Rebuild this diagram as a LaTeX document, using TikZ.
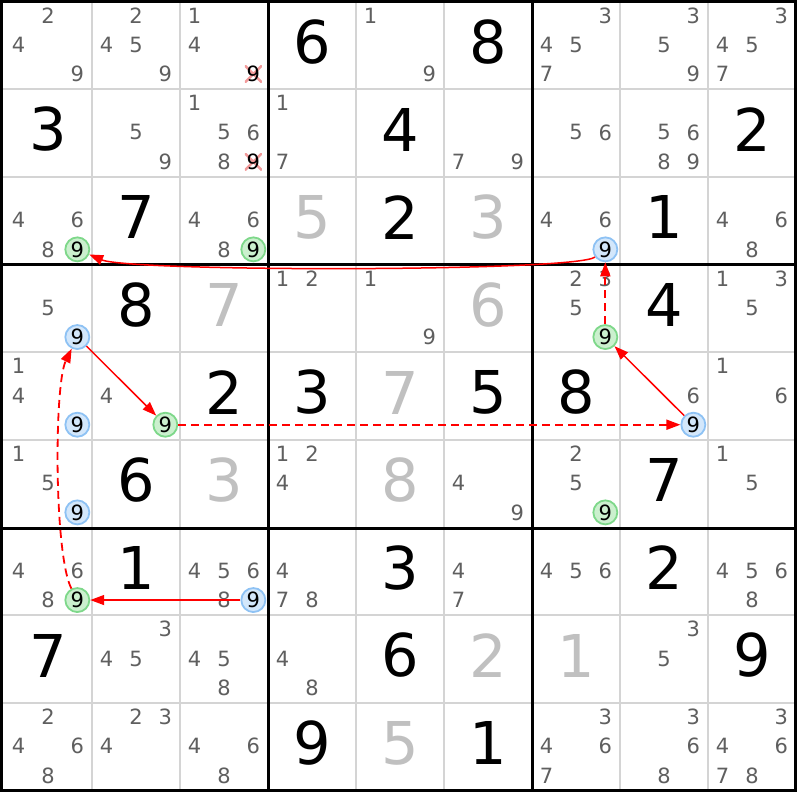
\documentclass[tikz,border=0pt]{standalone}
\usepackage{fontspec}
\setmainfont{DejaVu Sans}
\usetikzlibrary{arrows.meta}
\definecolor{candc}{HTML}{5F5F5F}
\definecolor{solvedc}{HTML}{C0C0C0}
\definecolor{thinc}{HTML}{D4D4D4}
\definecolor{grfill}{HTML}{CBF0CE}
\definecolor{grline}{HTML}{7ED88A}
\definecolor{blfill}{HTML}{D3E7FB}
\definecolor{blline}{HTML}{8EC2F4}
\definecolor{elimc}{HTML}{F29A9A}
\definecolor{arrc}{HTML}{FF0000}
\newcommand\candfont{\fontsize{21}{21}\selectfont}
\newcommand\bigfont{\fontsize{59}{59}\selectfont}
\tikzset{
  cand/.style={inner sep=0pt, text=candc, font=\candfont},
  gcirc/.style={circle, draw=grline, fill=grfill, line width=1.8pt, minimum size=24pt, inner sep=0pt, text=black, font=\candfont},
  bcirc/.style={circle, draw=blline, fill=blfill, line width=1.8pt, minimum size=24pt, inner sep=0pt, text=black, font=\candfont},
  elim/.style={inner sep=0pt, minimum size=17pt, fill=white, text=black, font=\candfont,
    path picture={\draw[elimc, line width=2.5pt]
      (path picture bounding box.north west) -- (path picture bounding box.south east)
      (path picture bounding box.north east) -- (path picture bounding box.south west);}},
  given/.style={inner sep=0pt, text=black, font=\bigfont},
  solved/.style={inner sep=0pt, text=solvedc, font=\bigfont},
  thingrid/.style={draw=thinc, line width=2pt},
  thickgrid/.style={draw=black, line width=3pt},
  link/.style={draw=arrc, line width=1.5pt, -{Triangle[length=14pt,width=10pt]}},
  weak/.style={draw=arrc, line width=1.8pt, dash pattern=on 8pt off 5pt, -{Triangle[length=14pt,width=10pt]}}
}
\newcommand\cands[3]{%
  \foreach \cd in {#3}{%
    \pgfmathsetmacro\pcx{4+88*(#2-1)+29.333*mod(\cd-1,3)+14.667}%
    \pgfmathsetmacro\pcy{1.5+87.667*(#1-1)+29.222*floor((\cd-1)/3)+14.1}%
    \node[cand] (c#1#2\cd) at (\pcx,\pcy) {\cd};
  }%
}
\newcommand\hl[4]{%
  \pgfmathsetmacro\pcx{4+88*(#3-1)+29.333*mod(#4-1,3)+14.667}%
  \pgfmathsetmacro\pcy{1.5+87.667*(#2-1)+29.222*floor((#4-1)/3)+14.1}%
  \node[#1] (c#2#3#4) at (\pcx,\pcy) {#4};
}
\newcommand\dig[4]{%
  \pgfmathsetmacro\pcx{4+88*(#3-1)+44}%
  \pgfmathsetmacro\pcy{1.5+87.667*(#2-1)+43.83-3.5}%
  \node[#1] (g#2#3) at (\pcx,\pcy) {#4};
}
\begin{document}
\begin{tikzpicture}[x=1pt,y=-1pt]
\fill[white] (0,0) rectangle (800,800);
\useasboundingbox (0,0) rectangle (800,800);
% thin grid
\foreach \k in {1,2,4,5,7,8}{
  \draw[thingrid] (4+88*\k,1.5) -- (4+88*\k,790.5);
  \draw[thingrid] (1.5,1.5+87.667*\k) -- (795.5,1.5+87.667*\k);
}
% thick grid
\draw[thickgrid] (1.5,1.5) rectangle (795.5,790.5);
\draw[thickgrid] (268,1.5) -- (268,790.5);
\draw[thickgrid] (532,1.5) -- (532,790.5);
\draw[thickgrid] (1.5,264.5) -- (795.5,264.5);
\draw[thickgrid] (1.5,528) -- (795.5,528);
% row 1
\cands{1}{1}{2,4,9}
\cands{1}{2}{2,4,5,9}
\cands{1}{3}{1,4} \hl{elim}{1}{3}{9}
\dig{given}{1}{4}{6}
\cands{1}{5}{1,9}
\dig{given}{1}{6}{8}
\cands{1}{7}{3,4,5,7}
\cands{1}{8}{3,5,9}
\cands{1}{9}{3,4,5,7}
% row 2
\dig{given}{2}{1}{3}
\cands{2}{2}{5,9}
\cands{2}{3}{1,5,6,8} \hl{elim}{2}{3}{9}
\cands{2}{4}{1,7}
\dig{given}{2}{5}{4}
\cands{2}{6}{7,9}
\cands{2}{7}{5,6}
\cands{2}{8}{5,6,8,9}
\dig{given}{2}{9}{2}
% row 3
\cands{3}{1}{4,6,8} \hl{gcirc}{3}{1}{9}
\dig{given}{3}{2}{7}
\cands{3}{3}{4,6,8} \hl{gcirc}{3}{3}{9}
\dig{solved}{3}{4}{5}
\dig{given}{3}{5}{2}
\dig{solved}{3}{6}{3}
\cands{3}{7}{4,6} \hl{bcirc}{3}{7}{9}
\dig{given}{3}{8}{1}
\cands{3}{9}{4,6,8}
% row 4
\cands{4}{1}{5} \hl{bcirc}{4}{1}{9}
\dig{given}{4}{2}{8}
\dig{solved}{4}{3}{7}
\cands{4}{4}{1,2}
\cands{4}{5}{1,9}
\dig{solved}{4}{6}{6}
\cands{4}{7}{2,3,5} \hl{gcirc}{4}{7}{9}
\dig{given}{4}{8}{4}
\cands{4}{9}{1,3,5}
% row 5
\cands{5}{1}{1,4} \hl{bcirc}{5}{1}{9}
\cands{5}{2}{4} \hl{gcirc}{5}{2}{9}
\dig{given}{5}{3}{2}
\dig{given}{5}{4}{3}
\dig{solved}{5}{5}{7}
\dig{given}{5}{6}{5}
\dig{given}{5}{7}{8}
\cands{5}{8}{6} \hl{bcirc}{5}{8}{9}
\cands{5}{9}{1,6}
% row 6
\cands{6}{1}{1,5} \hl{bcirc}{6}{1}{9}
\dig{given}{6}{2}{6}
\dig{solved}{6}{3}{3}
\cands{6}{4}{1,2,4}
\dig{solved}{6}{5}{8}
\cands{6}{6}{4,9}
\cands{6}{7}{2,5} \hl{gcirc}{6}{7}{9}
\dig{given}{6}{8}{7}
\cands{6}{9}{1,5}
% row 7
\cands{7}{1}{4,6,8} \hl{gcirc}{7}{1}{9}
\dig{given}{7}{2}{1}
\cands{7}{3}{4,5,6,8} \hl{bcirc}{7}{3}{9}
\cands{7}{4}{4,7,8}
\dig{given}{7}{5}{3}
\cands{7}{6}{4,7}
\cands{7}{7}{4,5,6}
\dig{given}{7}{8}{2}
\cands{7}{9}{4,5,6,8}
% row 8
\dig{given}{8}{1}{7}
\cands{8}{2}{3,4,5}
\cands{8}{3}{4,5,8}
\cands{8}{4}{4,8}
\dig{given}{8}{5}{6}
\dig{solved}{8}{6}{2}
\dig{solved}{8}{7}{1}
\cands{8}{8}{3,5}
\dig{given}{8}{9}{9}
% row 9
\cands{9}{1}{2,4,6,8}
\cands{9}{2}{2,3,4}
\cands{9}{3}{4,6,8}
\dig{given}{9}{4}{9}
\dig{solved}{9}{5}{5}
\dig{given}{9}{6}{1}
\cands{9}{7}{3,4,6,7}
\cands{9}{8}{3,6,8}
\cands{9}{9}{3,4,6,7,8}
% chain
\draw[link] (c379) .. controls (575,272) and (130,272) .. (c319);
\draw[weak] (c479) -- (c379);
\draw[link] (c589) -- (c479);
\draw[weak] (c529) -- (c589);
\draw[link] (c419) -- (c529);
\draw[weak] (c719) .. controls (54,555) and (54,385) .. (c419);
\draw[link] (c739) -- (c719);
\end{tikzpicture}
\end{document}
